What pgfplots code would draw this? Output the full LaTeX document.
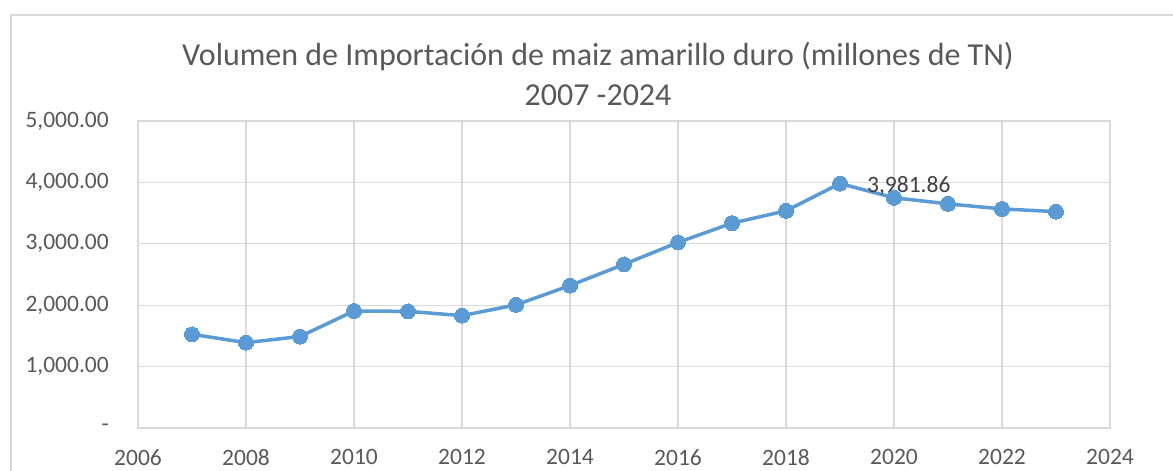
\documentclass[border=0pt]{standalone}
\usepackage{pgfplots}
\pgfplotsset{compat=1.18}
\usepackage{fontspec}
\setmainfont{Carlito}
\definecolor{linec}{HTML}{5B9BD5}
\definecolor{gridc}{HTML}{D9D9D9}
\definecolor{txt}{HTML}{595959}
\definecolor{lab}{HTML}{404040}
\begin{document}
\begin{tikzpicture}
\path[use as bounding box] (0pt,0pt) rectangle (1173pt,471pt);
\draw[gridc, line width=1.5pt] (11pt,-10pt) -- (11pt,456pt) -- (1190pt,456pt);
\node[anchor=base, text=txt, font=\fontsize{32}{38}\selectfont] at (598pt,405pt) {Volumen de Importación de maiz amarillo duro (millones de TN)};
\node[anchor=base, text=txt, font=\fontsize{32}{38}\selectfont] at (598pt,365pt) {2007 -2024};
\begin{axis}[
  at={(138pt,43pt)}, anchor=south west,
  scale only axis, width=972pt, height=307pt,
  xmin=2006, xmax=2024, ymin=0, ymax=5000,
  xtick={2006,2008,2010,2012,2014,2016,2018,2020,2022,2024},
  xticklabels={2006,2008,2010,2012,2014,2016,2018,2020,2022,2024},
  ytick={0,1000,2000,3000,4000,5000},
  yticklabels={{-\hspace{11pt}},{1,000.00},{2,000.00},{3,000.00},{4,000.00},{5,000.00}},
  major tick length=0pt,
  grid=major,
  grid style={gridc, line width=1.3pt},
  axis line style={gridc, line width=1.3pt},
  tick label style={text=txt, font=\fontsize{23.5}{28}\selectfont, inner sep=0pt},
  xticklabel style={anchor=north, yshift=-21pt},
  yticklabel style={anchor=east, xshift=-29pt},
  clip=false,
]
\addplot[color=linec, line width=3.5pt, mark=*, mark size=7.5pt, mark options={fill=linec, draw=linec, line width=0pt}]
coordinates {
(2007,1526) (2008,1390) (2009,1490) (2010,1905) (2011,1900) (2012,1830)
(2013,2005) (2014,2320) (2015,2665) (2016,3022) (2017,3336) (2018,3537)
(2019,3981.86) (2020,3750) (2021,3650) (2022,3568) (2023,3524)
};
\node[anchor=west, xshift=27pt, yshift=-2pt, text=lab, font=\fontsize{23.5}{28}\selectfont, inner sep=0pt] at (axis cs:2019,3981.86) {3,981.86};
\end{axis}
\end{tikzpicture}
\end{document}
